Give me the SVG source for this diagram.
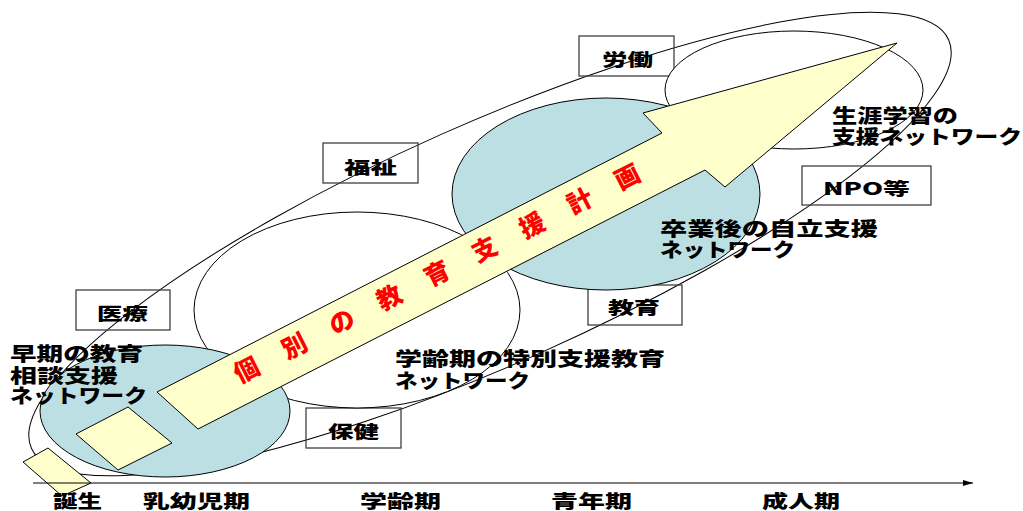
<svg xmlns="http://www.w3.org/2000/svg" width="1023" height="511" viewBox="0 0 1023 511">
<style>
.t{font-family:"Noto Sans CJK JP","Noto Sans CJK SC",sans-serif;font-weight:900;fill:#000;}
.lbl{font-size:19px;}
.box{fill:none;stroke:#404040;stroke-width:1.3;}
.bt{font-size:17px;}
.ax{font-size:18px;}
.ln{fill:none;stroke:#000;stroke-width:1;}
.wh{fill:#fff;stroke:#000;stroke-width:1;}
.bl{fill:#bbdfe3;stroke:#000;stroke-width:1;}
.yl{fill:#ffffcc;stroke:#000;stroke-width:1;}
</style>
<defs>
<marker id="ah" viewBox="0 0 10 6" refX="10" refY="3" markerWidth="10" markerHeight="6" markerUnits="userSpaceOnUse" orient="auto"><path d="M0,0 L10,3 L0,6 z" fill="#000"/></marker>
</defs>
<rect width="1023" height="511" fill="#fff"/>
<g id="outer"><ellipse class="ln" cx="490" cy="244" rx="502" ry="120" transform="rotate(-24 490 244)"/></g>
<g id="boxes">
<g id="n-roudou"><rect class="box" x="579" y="36" width="95" height="40"/><text class="t bt" x="602" y="66" textLength="51" lengthAdjust="spacingAndGlyphs">労働</text></g>
<g id="n-fukushi"><rect class="box" x="323" y="143" width="95" height="40"/><text class="t bt" x="344" y="174" textLength="53" lengthAdjust="spacingAndGlyphs">福祉</text></g>
<g id="n-iryou"><rect class="box" x="76" y="290" width="94" height="40"/><text class="t bt" x="97" y="320" textLength="51" lengthAdjust="spacingAndGlyphs">医療</text></g>
<g id="n-hoken"><rect class="box" x="306" y="408" width="95" height="40"/><text class="t bt" x="328" y="438" textLength="51" lengthAdjust="spacingAndGlyphs">保健</text></g>
<g id="n-kyouiku"><rect class="box" x="588" y="285" width="94" height="40"/><text class="t bt" x="608" y="314" textLength="52" lengthAdjust="spacingAndGlyphs">教育</text></g>
<g id="n-npo"><rect class="box" x="802" y="166" width="129" height="39"/><text class="t bt" x="823" y="195" textLength="87" lengthAdjust="spacingAndGlyphs">NPO等</text></g>
</g>
<g id="n-shougai"><ellipse class="wh" cx="794" cy="90" rx="129" ry="59"/></g>
<g id="n-gakurei"><ellipse class="wh" cx="357" cy="310" rx="163" ry="98"/></g>
<g id="n-souki"><ellipse class="bl" cx="165" cy="411" rx="125" ry="66"/></g>
<g id="n-sotsugyou"><ellipse class="bl" cx="606" cy="194" rx="154" ry="96"/></g>
<g id="arrow">
<polygon class="yl" points="157,392 662,133 643,113 897,43 725,187 705,170 198,429"/>
<text class="t" font-size="25" style="fill:#ff0000" transform="translate(437,273.5) rotate(-26.9)" x="-226" y="9" textLength="452" lengthAdjust="spacing">個別の教育支援計画</text>
</g>
<g id="squares">
<polygon class="yl" points="76,434 128,407 172,443 118,470"/>
<polygon class="yl" points="23,462 48,448 91,483 62,496"/>
</g>
<g id="connectors">
<line class="ln" x1="33" y1="483" x2="973" y2="483" marker-end="url(#ah)"/>
</g>
<g id="labels">
<text class="t lbl" x="10" y="361" textLength="133" lengthAdjust="spacingAndGlyphs">早期の教育</text>
<text class="t lbl" x="10" y="383" textLength="108" lengthAdjust="spacingAndGlyphs">相談支援</text>
<text class="t lbl" x="10" y="403" textLength="137" lengthAdjust="spacingAndGlyphs">ネットワーク</text>
<text class="t lbl" x="395" y="366" textLength="270" lengthAdjust="spacingAndGlyphs">学齢期の特別支援教育</text>
<text class="t lbl" x="395" y="388" textLength="135" lengthAdjust="spacingAndGlyphs">ネットワーク</text>
<text class="t lbl" x="660" y="236" textLength="218" lengthAdjust="spacingAndGlyphs">卒業後の自立支援</text>
<text class="t lbl" x="660" y="257" textLength="135" lengthAdjust="spacingAndGlyphs">ネットワーク</text>
<text class="t lbl" x="832" y="123" textLength="126" lengthAdjust="spacingAndGlyphs">生涯学習の</text>
<text class="t lbl" x="832" y="144" textLength="190" lengthAdjust="spacingAndGlyphs">支援ネットワーク</text>
</g>
<g id="axis-labels">
<text class="t ax" x="53" y="508" textLength="49" lengthAdjust="spacingAndGlyphs">誕生</text>
<text class="t ax" x="143" y="508" textLength="107" lengthAdjust="spacingAndGlyphs">乳幼児期</text>
<text class="t ax" x="360" y="508" textLength="81" lengthAdjust="spacingAndGlyphs">学齢期</text>
<text class="t ax" x="551" y="508" textLength="81" lengthAdjust="spacingAndGlyphs">青年期</text>
<text class="t ax" x="762" y="508" textLength="78" lengthAdjust="spacingAndGlyphs">成人期</text>
</g>
</svg>
